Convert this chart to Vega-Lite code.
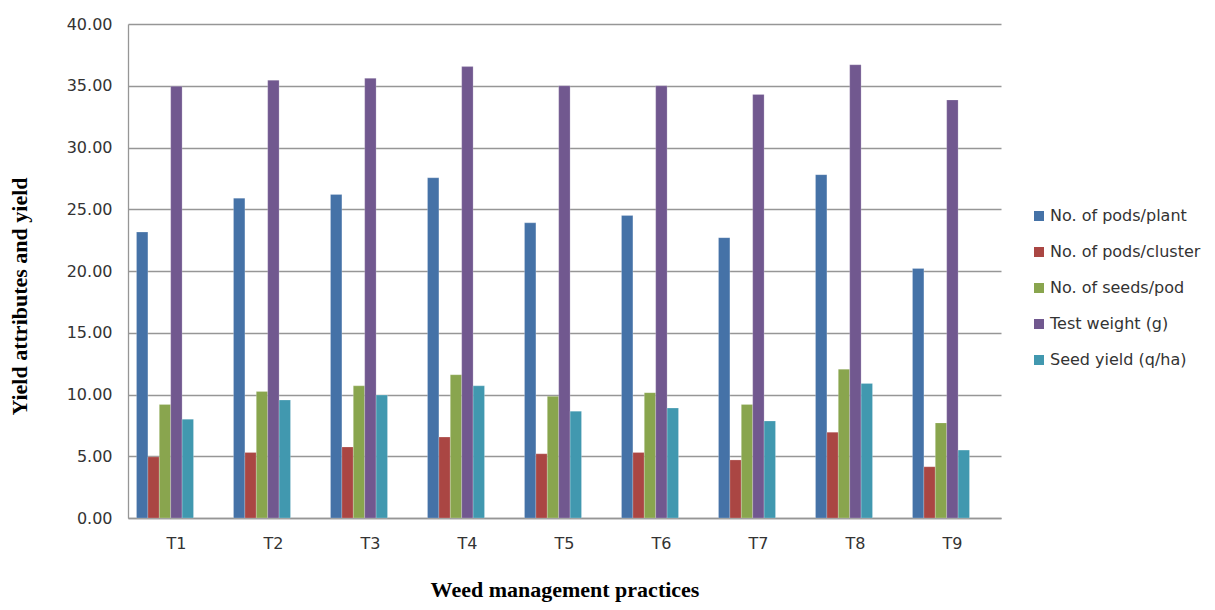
{
  "$schema": "https://vega.github.io/schema/vega-lite/v6.json",
  "autosize": {"type": "none"},
  "width": 873,
  "height": 494,
  "padding": {"left": 128, "top": 24, "right": 214, "bottom": 92},
  "background": "white",
  "config": {
    "view": {"stroke": null},
    "axis": {"labelFont": "DejaVu Sans", "labelFontSize": 16, "labelColor": "#333333", "titleFont": "Liberation Serif", "titleFontWeight": "bold", "titleFontSize": 22, "titleColor": "#000000"},
    "legend": {"labelFont": "DejaVu Sans", "labelFontSize": 16, "labelColor": "#333333"}
  },
  "data": {
    "values": [
      {"t": "T1", "s": "No. of pods/plant", "v": 23.15},
      {"t": "T1", "s": "No. of pods/cluster", "v": 4.95},
      {"t": "T1", "s": "No. of seeds/pod", "v": 9.2},
      {"t": "T1", "s": "Test weight (g)", "v": 34.95},
      {"t": "T1", "s": "Seed yield (q/ha)", "v": 8.0},
      {"t": "T2", "s": "No. of pods/plant", "v": 25.9},
      {"t": "T2", "s": "No. of pods/cluster", "v": 5.3},
      {"t": "T2", "s": "No. of seeds/pod", "v": 10.25},
      {"t": "T2", "s": "Test weight (g)", "v": 35.45},
      {"t": "T2", "s": "Seed yield (q/ha)", "v": 9.55},
      {"t": "T3", "s": "No. of pods/plant", "v": 26.2},
      {"t": "T3", "s": "No. of pods/cluster", "v": 5.75},
      {"t": "T3", "s": "No. of seeds/pod", "v": 10.7},
      {"t": "T3", "s": "Test weight (g)", "v": 35.6},
      {"t": "T3", "s": "Seed yield (q/ha)", "v": 9.95},
      {"t": "T4", "s": "No. of pods/plant", "v": 27.55},
      {"t": "T4", "s": "No. of pods/cluster", "v": 6.55},
      {"t": "T4", "s": "No. of seeds/pod", "v": 11.6},
      {"t": "T4", "s": "Test weight (g)", "v": 36.55},
      {"t": "T4", "s": "Seed yield (q/ha)", "v": 10.7},
      {"t": "T5", "s": "No. of pods/plant", "v": 23.9},
      {"t": "T5", "s": "No. of pods/cluster", "v": 5.2},
      {"t": "T5", "s": "No. of seeds/pod", "v": 9.85},
      {"t": "T5", "s": "Test weight (g)", "v": 35.0},
      {"t": "T5", "s": "Seed yield (q/ha)", "v": 8.65},
      {"t": "T6", "s": "No. of pods/plant", "v": 24.5},
      {"t": "T6", "s": "No. of pods/cluster", "v": 5.3},
      {"t": "T6", "s": "No. of seeds/pod", "v": 10.15},
      {"t": "T6", "s": "Test weight (g)", "v": 35.0},
      {"t": "T6", "s": "Seed yield (q/ha)", "v": 8.9},
      {"t": "T7", "s": "No. of pods/plant", "v": 22.7},
      {"t": "T7", "s": "No. of pods/cluster", "v": 4.7},
      {"t": "T7", "s": "No. of seeds/pod", "v": 9.2},
      {"t": "T7", "s": "Test weight (g)", "v": 34.3},
      {"t": "T7", "s": "Seed yield (q/ha)", "v": 7.85},
      {"t": "T8", "s": "No. of pods/plant", "v": 27.8},
      {"t": "T8", "s": "No. of pods/cluster", "v": 6.95},
      {"t": "T8", "s": "No. of seeds/pod", "v": 12.05},
      {"t": "T8", "s": "Test weight (g)", "v": 36.7},
      {"t": "T8", "s": "Seed yield (q/ha)", "v": 10.9},
      {"t": "T9", "s": "No. of pods/plant", "v": 20.2},
      {"t": "T9", "s": "No. of pods/cluster", "v": 4.15},
      {"t": "T9", "s": "No. of seeds/pod", "v": 7.7},
      {"t": "T9", "s": "Test weight (g)", "v": 33.85},
      {"t": "T9", "s": "Seed yield (q/ha)", "v": 5.5}
    ]
  },
  "mark": {"type": "bar", "stroke": "#ffffff", "strokeOpacity": 0.35, "strokeWidth": 0.6},
  "encoding": {
    "x": {
      "field": "t", "type": "nominal", "sort": null,
      "scale": {"paddingInner": 0, "paddingOuter": 0},
      "axis": {
        "title": "Weed management practices",
        "labelAngle": 0, "ticks": false, "labelPadding": 17,
        "domainColor": "#969696", "domainWidth": 1.3,
        "titleY": 61
      }
    },
    "xOffset": {
      "field": "s", "type": "nominal", "sort": null,
      "scale": {"range": [8.5, 65.5], "paddingInner": 0, "paddingOuter": 0}
    },
    "y": {
      "field": "v", "type": "quantitative",
      "scale": {"domain": [0, 40], "nice": false},
      "axis": {
        "title": "Yield attributes and yield",
        "values": [0, 5, 10, 15, 20, 25, 30, 35, 40],
        "format": ".2f", "ticks": false, "labelPadding": 16,
        "grid": true, "gridColor": "#969696", "gridWidth": 1.3,
        "domainColor": "#969696", "domainWidth": 1.3,
        "titleX": -97, "titleY": 272
      }
    },
    "color": {
      "field": "s", "type": "nominal", "sort": null,
      "scale": {
        "domain": ["No. of pods/plant", "No. of pods/cluster", "No. of seeds/pod", "Test weight (g)", "Seed yield (q/ha)"],
        "range": ["#4572A7", "#AA4643", "#89A54E", "#71588F", "#4198AF"]
      },
      "legend": {
        "title": null, "orient": "none", "legendX": 903, "legendY": 184,
        "symbolType": "square", "symbolSize": 100, "symbolStrokeWidth": 0,
        "rowPadding": 20, "labelOffset": 3, "padding": 0
      }
    }
  }
}
